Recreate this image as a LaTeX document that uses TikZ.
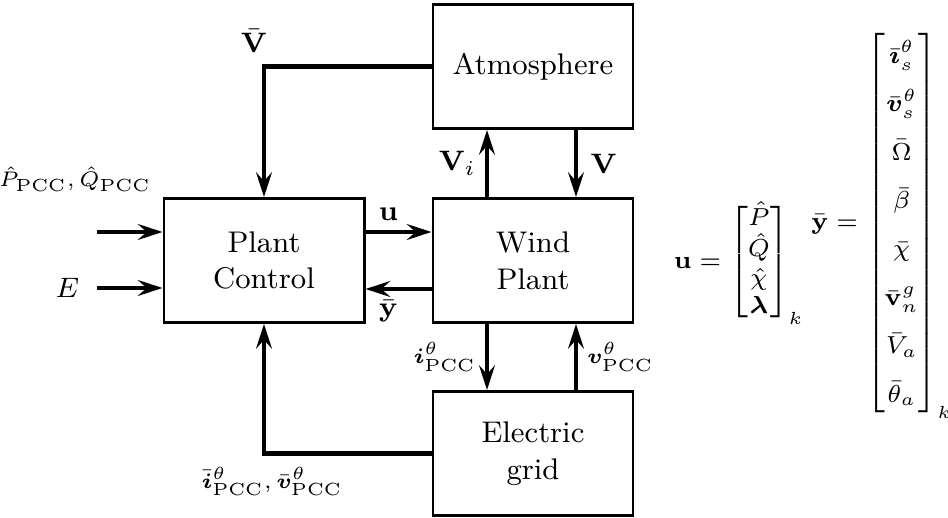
\documentclass[tikz,border=0pt]{standalone}
\usepackage{amsmath,amssymb,bm}
\usetikzlibrary{arrows.meta,positioning,calc}

\tikzset{
    block/.style={draw, line width=0.85pt, minimum width=2cm, minimum height=1.24cm,
        align=center, font=\fontsize{8.5}{10.5}\selectfont},
    sig/.style={line width=1.35pt, -{Stealth[length=7pt, width=4.5pt, inset=2.5pt]}},
    lbl/.style={font=\fontsize{8}{9.5}\selectfont, inner sep=1.5pt},
    slbl/.style={font=\fontsize{6.5}{8}\selectfont, inner sep=1.5pt}
}

\begin{document}
\begin{tikzpicture}[font=\fontsize{8}{9.5}\selectfont]
    \useasboundingbox (0,0) rectangle (9.48,-5.18);

    % blocks
    \node[block] (ctrl) at (2.64,-2.605) {Plant\\Control};
    \node[block, right=0.66cm of ctrl] (plant) {Wind\\Plant};
    \node[block, above=0.67cm of plant] (atmo) {Atmosphere};
    \node[block, below=0.66cm of plant] (grid) {Electric\\grid};

    % inputs
    \coordinate (pqin) at (0.97,-2.32);
    \coordinate (ein) at (0.97,-2.88);
    \node[slbl, font=\fontsize{6.2}{7.5}\selectfont] (pq) at (0.75,-1.79) {$\hat{P}_{\mathrm{PCC}}, \hat{Q}_{\mathrm{PCC}}$};
    \node[lbl, left=0.12cm of ein] (e) {$E$};
    \draw[sig] (pqin) -- (pqin -| ctrl.west);
    \draw[sig] (ein) -- (ein -| ctrl.west);

    % control <-> plant
    \draw[sig] ([yshift=0.285cm]ctrl.east) -- ([yshift=0.285cm]plant.west)
        node[lbl, midway, above=1pt, xshift=-0.1cm] {$\mathbf{u}$};
    \draw[sig] ([yshift=-0.285cm]plant.west) -- ([yshift=-0.285cm]ctrl.east)
        node[lbl, midway, below=1pt, xshift=-0.1cm] {$\bar{\mathbf{y}}$};

    % plant <-> atmosphere
    \draw[sig] ([xshift=-0.46cm]plant.north) -- ([xshift=-0.46cm]atmo.south)
        node[lbl, midway, left=1pt] {$\mathbf{V}_i$};
    \draw[sig] ([xshift=0.43cm]atmo.south) -- ([xshift=0.43cm]plant.north)
        node[lbl, midway, right=2pt] {$\mathbf{V}$};

    % plant <-> grid
    \draw[sig] ([xshift=-0.46cm]plant.south) -- ([xshift=-0.46cm]grid.north)
        node[slbl, midway, left=1pt] {$\bm{i}^{\theta}_{\mathrm{PCC}}$};
    \draw[sig] ([xshift=0.43cm]grid.north) -- ([xshift=0.43cm]plant.south)
        node[slbl, midway, right=1pt] {$\bm{v}^{\theta}_{\mathrm{PCC}}$};

    % measurements back to control
    \draw[sig] (atmo.west) -| (ctrl.north)
        node[lbl, pos=0.5, above=0.06cm, xshift=-0.1cm] {$\bar{\mathbf{V}}$};
    \draw[sig] (grid.west) -| (ctrl.south)
        node[slbl, pos=0.5, below=0.06cm, xshift=0.08cm] {$\bar{\bm{i}}^{\theta}_{\mathrm{PCC}}, \bar{\bm{v}}^{\theta}_{\mathrm{PCC}}$};

    % vectors
    \node[font=\fontsize{7.5}{9}\selectfont] (ueq) at (7.39,-2.63) {\setlength{\arraycolsep}{2pt}\renewcommand{\arraystretch}{0.9}%
        $\mathbf{u} = \begin{bmatrix} \hat{P}\\ \hat{Q}\\ \hat{\chi}\\ \bm{\lambda} \end{bmatrix}_k$};
    \node[font=\fontsize{7.5}{9}\selectfont] (yeq) at (8.82,-2.24) {\setlength{\arraycolsep}{2pt}\renewcommand{\arraystretch}{1.53}%
        $\bar{\mathbf{y}} = \begin{bmatrix} \bar{\bm{\imath}}^{\theta}_s\\ \bar{\bm{v}}^{\theta}_s\\ \bar{\Omega}\\ \bar{\beta}\\ \bar{\chi}\\ \bar{\mathbf{v}}^{g}_n\\ \bar{V}_a\\ \bar{\theta}_a \end{bmatrix}_k$};
\end{tikzpicture}
\end{document}
